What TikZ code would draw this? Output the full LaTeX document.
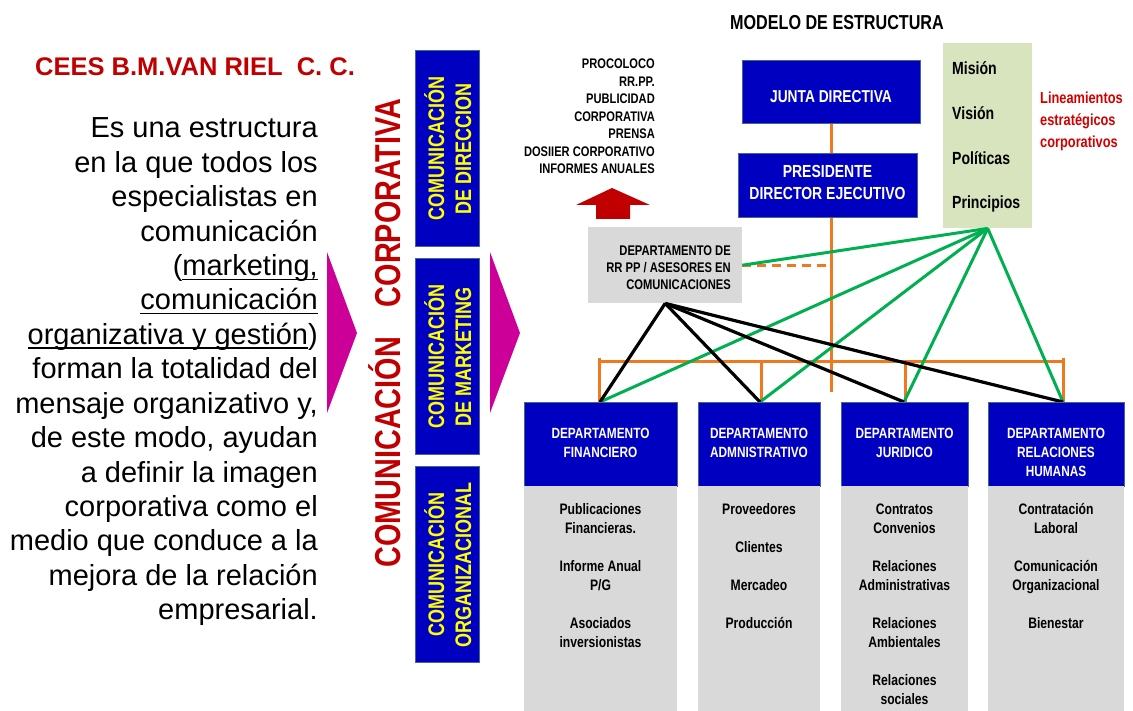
\documentclass[tikz,border=0pt]{standalone}
\usepackage{fontspec}
\setmainfont{Liberation Sans}
\newfontfamily\nar[FakeStretch=0.8]{Liberation Sans}
\definecolor{bluebox}{RGB}{0,0,192}
\definecolor{bluebord}{RGB}{70,100,140}
\definecolor{greybox}{RGB}{217,217,217}
\definecolor{greenbox}{RGB}{215,228,189}
\definecolor{orng}{RGB}{240,120,30}
\definecolor{grn}{RGB}{0,176,80}
\definecolor{pinkc}{RGB}{204,0,153}
\definecolor{darkred}{RGB}{192,0,0}
\definecolor{lred}{RGB}{210,0,0}
\definecolor{ylw}{RGB}{255,255,0}
\newcommand\myul[1]{\setbox0\hbox{#1}\rlap{\rule[-4.5pt]{\wd0}{1.5pt}}\box0}
\begin{document}
\begin{tikzpicture}[x=1pt,y=-1pt,
  bluebx/.style={draw=bluebord, line width=1.3pt, fill=bluebox, inner sep=0, anchor=north west},
  greybx/.style={fill=greybox, inner sep=0, anchor=north west},
  whitetxt/.style={text=white, font=\nar\bfseries\fontsize{14.8}{19}\selectfont, align=center, inner sep=0, anchor=north},
  conttxt/.style={text=black, font=\nar\bfseries\fontsize{15.2}{19}\selectfont, align=center, inner sep=0, anchor=north},
  ylwtxt/.style={text=ylw, font=\nar\bfseries\fontsize{22.5}{27}\selectfont, align=center, inner sep=0, rotate=90},
  orline/.style={draw=orng, line width=3pt},
  grline/.style={draw=grn, line width=3pt},
  blline/.style={draw=black, line width=3.2pt},
]
\useasboundingbox (0,0) rectangle (1133,711);

% ---------- left text ----------
\node[anchor=base west, inner sep=0, text=darkred, font=\bfseries\fontsize{25.5}{30}\selectfont] (title) at (35,76) {CEES B.M.VAN RIEL\ \ C. C.};
\foreach \ln [count=\i from 0] in {Es una estructura, en la que todos los, especialistas en, comunicación, {(\myul{marketing,}}, \myul{comunicación}, {\myul{organizativa y gestión})}, forman la totalidad del, {mensaje organizativo y,}, {de este modo, ayudan}, a definir la imagen, corporativa como el, medio que conduce a la, mejora de la relación, empresarial.}
  \node[anchor=base east, inner sep=0, font=\fontsize{29}{34}\selectfont] (body\i) at (318,{138+34.4*\i}) {\ln};

% ---------- pink triangles ----------
\fill[pinkc] (327,252) -- (357,333) -- (327,413) -- cycle;
\fill[pinkc] (490,252) -- (520,333) -- (490,413) -- cycle;

% ---------- vertical red title ----------
\node[rotate=90, anchor=base, inner sep=0, text=darkred, font=\nar\bfseries\fontsize{36}{36}\selectfont] (cc) at (400,333) {COMUNICACIÓN\hspace{0.83em}CORPORATIVA};

% ---------- left blue boxes ----------
\node[bluebx, minimum width=64, minimum height=196] (lb1) at (415,50) {};
\node[bluebx, minimum width=64, minimum height=196] (lb2) at (415,258) {};
\node[bluebx, minimum width=64, minimum height=196] (lb3) at (415,466) {};
\node[ylwtxt] (lt1) at (lb1.center) {COMUNICACIÓN\\DE DIRECCION};
\node[ylwtxt] (lt2) at (lb2.center) {COMUNICACIÓN\\DE MARKETING};
\node[ylwtxt] (lt3) at (lb3.center) {COMUNICACIÓN\\ORGANIZACIONAL};

% ---------- top list and arrow ----------
\node[anchor=north east, align=right, inner sep=0, font=\nar\bfseries\fontsize{13.9}{17.5}\selectfont] (list) at (655,59) {PROCOLOCO\\RR.PP.\\PUBLICIDAD\\CORPORATIVA\\PRENSA\\DOSIIER CORPORATIVO\\INFORMES ANUALES};
\fill[darkred] (612,188) -- (650,205) -- (630,205) -- (630,219) -- (596,219) -- (596,205) -- (576,205) -- cycle;

% ---------- title ----------
\node[inner sep=0, font=\nar\bfseries\fontsize{20.2}{22}\selectfont] (modelo) at (837,23) {MODELO DE ESTRUCTURA};

% ---------- orange structure ----------
\node[bluebx, minimum width=178, minimum height=63] (junta) at (742,60) {};
\draw[orline] (junta.south) -- ++(0,268) coordinate (vend);
\coordinate (b1) at (599,362);
\coordinate (b2) at (761,362);
\coordinate (b3) at (905,362);
\coordinate (b4) at (1063,362);
\coordinate (p1) at (600,402);
\coordinate (p2) at (760,402);
\coordinate (p3) at (904,402);
\coordinate (p4) at (1063,402);
\draw[orline] (b1) -- (b4);
\draw[orline] ([yshift=4]b1) -- (599,402);
\draw[orline] ([yshift=4]b4) -- (1063,402);
\draw[orline] (b2) -- (761,402);
\draw[orline] (b3) -- (905,402);

\node[bluebx, minimum width=179, minimum height=64] (pres) at (738,153) {};
\node[inner sep=0, text=white, font=\nar\bfseries\fontsize{17.2}{22}\selectfont] (juntat) at (831,97) {JUNTA DIRECTIVA};
\node[anchor=north, align=center, inner sep=0, text=white, font=\nar\bfseries\fontsize{17.5}{22}\selectfont] (prest) at (827.5,164.7) {PRESIDENTE\\DIRECTOR EJECUTIVO};

% ---------- RR PP box ----------
\node[greybx, minimum width=154, minimum height=76] (rrpp) at (588,227) {};
\node[anchor=north east, align=right, inner sep=0, font=\nar\bfseries\fontsize{14}{17}\selectfont] (rrppt) at (731,246) {DEPARTAMENTO DE\\RR PP / ASESORES EN\\COMUNICACIONES};
\draw[orline, dashed, dash pattern=on 9pt off 6pt] (rrpp.east) -- (rrpp.east -| junta.south);

% ---------- green box ----------
\node[greybx, fill=greenbox, minimum width=89, minimum height=185] (mvpp) at (943,43) {};
\node[anchor=north west, align=left, inner sep=0, font=\nar\bfseries\fontsize{17.6}{44.7}\selectfont] (mvppt) at (952,61.7) {Misión\\Visión\\Políticas\\Principios};
\node[anchor=north west, align=left, inner sep=0, text=lred, font=\nar\bfseries\fontsize{16}{22}\selectfont] (linea) at (1040,92) {Lineamientos\\estratégicos\\corporativos};

% ---------- connectors ----------
\draw[grline] (mvpp.south) -- (rrpp.east);
\foreach \p in {p1,p2,p3,p4} \draw[grline] (mvpp.south) -- (\p);
\foreach \p in {p1,p2,p3,p4} \draw[blline] (rrpp.south) -- (\p);

% ---------- departments ----------
\node[bluebx, minimum width=153, minimum height=84] (d1) at (524,402) {};
\node[bluebx, minimum width=122, minimum height=84] (d2) at (698,402) {};
\node[bluebx, minimum width=127, minimum height=84] (d3) at (841,402) {};
\node[bluebx, minimum width=136, minimum height=84] (d4) at (988,402) {};
\node[greybx, minimum width=153, minimum height=225] (g1) at (524,486) {};
\node[greybx, minimum width=122, minimum height=225] (g2) at (698,486) {};
\node[greybx, minimum width=127, minimum height=225] (g3) at (841,486) {};
\node[greybx, minimum width=136, minimum height=225] (g4) at (988,486) {};

\node[whitetxt] (d1t) at (600.5,427.7) {DEPARTAMENTO\\FINANCIERO};
\node[whitetxt] (d2t) at (759,427.7) {DEPARTAMENTO\\ADMNISTRATIVO};
\node[whitetxt] (d3t) at (904.5,427.7) {DEPARTAMENTO\\JURIDICO};
\node[whitetxt] (d4t) at (1056,427.7) {DEPARTAMENTO\\RELACIONES\\HUMANAS};

\node[conttxt] (c1) at (600.5,503.5) {Publicaciones\\Financieras.\\[19pt]Informe Anual\\P/G\\[19pt]Asociados\\inversionistas};
\node[conttxt] (c2) at (759,503.5) {Proveedores\\[19pt]Clientes\\[19pt]Mercadeo\\[19pt]Producción};
\node[conttxt] (c3) at (904.5,503.5) {Contratos\\Convenios\\[19pt]Relaciones\\Administrativas\\[19pt]Relaciones\\Ambientales\\[19pt]Relaciones\\sociales};
\node[conttxt] (c4) at (1056,503.5) {Contratación\\Laboral\\[19pt]Comunicación\\Organizacional\\[19pt]Bienestar};
\end{tikzpicture}
\end{document}
